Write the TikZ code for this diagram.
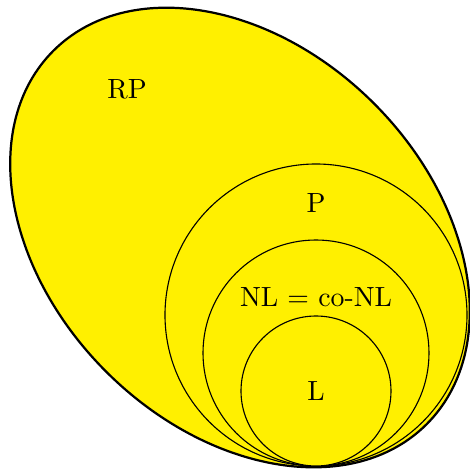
\documentclass[tikz,border=0pt]{standalone}
\usepackage{tikz}
\definecolor{classyellow}{RGB}{255,240,0}
\tikzset{
  rpset/.style={draw=black, thick, fill=classyellow},
  subset/.style={draw=black, fill=classyellow},
  lbl/.style={font=\normalsize}
}
\begin{document}
\begin{tikzpicture}[x=0.36pt, y=-0.36pt]
\useasboundingbox (0,0) rectangle (470,469);
% outer class
\draw[rpset, shift={(240,237.5)}, rotate=-45] (0,0) ellipse [x radius=264, y radius=189.5];
% nested classes, all touching at the bottom
\draw[subset] (316,315) circle [radius=151];
\draw[subset] (316,353) circle [radius=113];
\draw[subset] (316,391) circle [radius=75];
\node (rp) [lbl] at (127,89) {RP};
\node (p) [lbl] at (316,203) {P};
\node (nl) [lbl] at (316,297) {NL = co-NL};
\node (l) [lbl] at (316,391) {L};
\end{tikzpicture}
\end{document}
